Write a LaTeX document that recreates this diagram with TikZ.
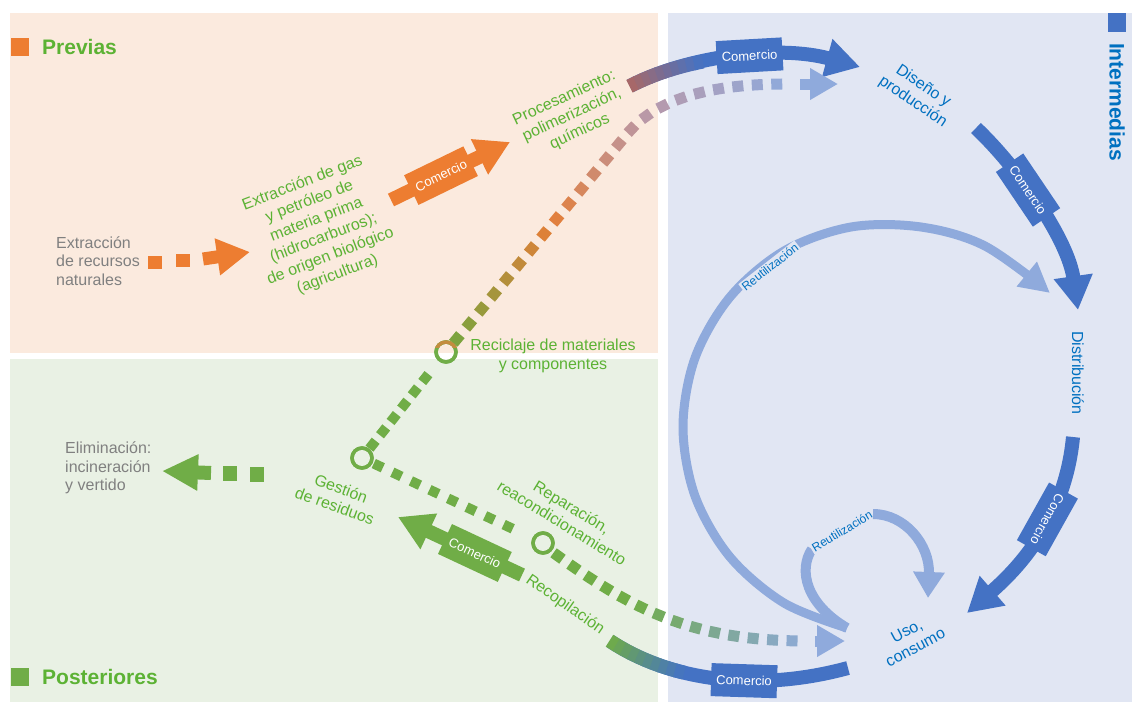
\documentclass[tikz,border=0pt]{standalone}
\usepackage{fontspec}
\setmainfont{Liberation Sans}
\usetikzlibrary{arrows.meta,decorations.markings,calc}
\definecolor{bgorange}{RGB}{251,234,222}
\definecolor{bggreen}{RGB}{233,241,228}
\definecolor{bgblue}{RGB}{225,230,243}
\definecolor{corange}{RGB}{237,125,49}
\definecolor{cblue}{RGB}{68,114,196}
\definecolor{clblue}{RGB}{143,170,220}
\definecolor{cgreen}{RGB}{112,173,71}
\definecolor{tgreen}{RGB}{92,178,52}
\definecolor{tblue}{RGB}{0,112,192}
\definecolor{tgray}{RGB}{128,128,128}
\definecolor{cbrown}{RGB}{172,104,100}
\definecolor{colive}{RGB}{125,163,62}
\definecolor{cdorange}{RGB}{228,126,56}
\definecolor{cmauve}{RGB}{185,152,168}
\definecolor{cteal}{RGB}{126,168,150}
\definecolor{cringtop}{RGB}{196,140,62}
\newcommand\myfs[2]{\fontsize{#1}{#2}\selectfont}
\tikzset{
  lbl/.style={inner sep=0pt, align=center, text=tgreen, font=\myfs{16}{18.5}},
  graylbl/.style={inner sep=0pt, align=left, text=tgray, font=\myfs{16}{18.5}},
  bluelbl/.style={inner sep=0pt, align=center, text=tblue, font=\myfs{16}{18.5}},
  headlbl/.style={inner sep=0pt, text=tgreen, font=\bfseries\myfs{21}{21}},
  reutlbl/.style={inner sep=1.5pt, text=tblue, fill=bgblue, font=\myfs{12}{12}},
  combox/.style={fill=#1, text=white, font=\myfs{13}{13}, minimum width=66pt,
                 minimum height=33pt, inner sep=0pt, sloped},
  bigarrow/.style={line width=14pt, draw=#1, -{Triangle[length=34pt,width=37pt]}},
  ring/.style={circle, draw=cgreen, line width=3.5pt, minimum size=20pt, inner sep=0pt},
  sqdots/.style n args={6}{decoration={markings,
     mark=between positions 0 and 1 step #6 with {%
       \pgfmathsetmacro\dd{\pgfkeysvalueof{/pgf/decoration/mark info/distance from start}}%
       \pgfmathtruncatemacro\pp{300*(\dd/\pgfdecoratedpathlength)}%
       \ifnum\pp<100\relax \colorlet{sqc}{#2!\pp!#1}%
       \else\ifnum\pp<200\relax \pgfmathtruncatemacro\qq{\pp-100}\colorlet{sqc}{#3!\qq!#2}%
       \else\pgfmathtruncatemacro\qq{min(\pp-200,100)}\colorlet{sqc}{#4!\qq!#3}\fi\fi
       \fill[sqc] (-#5/2,-#5/2) rectangle (#5/2,#5/2);}},
     decorate}
}
\begin{document}
\begin{tikzpicture}[x=1pt,y=-1pt]
\useasboundingbox (0,0) rectangle (1132,702);
\fill[white] (0,0) rectangle (1132,702);
% panels
\fill[bgorange] (10,13) rectangle (658,353);
\fill[bggreen] (10,359) rectangle (658,702);
\fill[bgblue] (668,13) rectangle (1132,702);
% headings
\fill[corange] (11,38) rectangle (29,56);
\node[headlbl, anchor=west] (hprev) at (42,47) {Previas};
\fill[cgreen] (11,668) rectangle (29,686);
\node[headlbl, anchor=west] (hpost) at (42,677) {Posteriores};
\fill[cblue] (1108,13) rectangle (1126,32);
\node[headlbl, text=tblue, rotate=-90] (hint) at (1117,102) {Intermedias};

% circles (nodes)
\node[ring] (cRec) at (446,352) {};
\node[ring] (cGes) at (362,458) {};
\node[ring] (cRep) at (543,543) {};

% coordinates
\coordinate (ex1) at (203,259);
\coordinate (ex2) at (250,252);
\coordinate (oc1) at (391,200);
\coordinate (oc2) at (510,142);
\coordinate (tg1) at (630,86);
\coordinate (tg2) at (860,67);
\coordinate (b1) at (976,128);
\coordinate (b2) at (1078,310);
\coordinate (b3) at (1073,437);
\coordinate (b4) at (967,613);
\coordinate (gc1) at (522,575);
\coordinate (gc2) at (398,517);
\coordinate (bg1) at (610,641);
\coordinate (bg2) at (848,668);
\coordinate (el1) at (211,473);
\coordinate (el2) at (162,471);
\coordinate (rd1) at ($(cRec)!17pt!(640,118)$);
\coordinate (rd2) at (628,133);
\coordinate (rd3) at (787,84);
\coordinate (rd4) at (800,84);
\coordinate (rd5) at (838,84);
\coordinate (ru1) at (558,556);
\coordinate (ru2) at (808,641);
\coordinate (ru3) at (815,641);
\coordinate (ru4) at (845,641);
\coordinate (uso1) at (847,628);

% orange dotted arrow
\fill[corange] (148,256) rectangle (162,269);
\fill[corange] (176,254) rectangle (190,267);
\draw[line width=13pt, corange, -{Triangle[length=33pt,width=35pt]}] (ex1) -- (ex2);

% orange comercio arrow
\draw[bigarrow=corange] (oc1) -- (oc2) node[combox=corange, pos=0.42] {Comercio};

% top gradient arrow
\draw[bigarrow=cblue] (tg1) .. controls (690,55) and (780,45) .. (tg2)
   node[combox=cblue, pos=0.55] {Comercio};
\path (tg1) .. controls (690,55) and (780,45) .. (tg2)
   coordinate[pos=0] (u0) coordinate[pos=0.035] (u1) coordinate[pos=0.07] (u2)
   coordinate[pos=0.105] (u3) coordinate[pos=0.14] (u4) coordinate[pos=0.175] (u5)
   coordinate[pos=0.21] (u6) coordinate[pos=0.245] (u7) coordinate[pos=0.28] (u8)
   coordinate[pos=0.315] (u9) coordinate[pos=0.35] (u10);
\foreach \i in {0,...,9}{\pgfmathtruncatemacro\j{\i+1}\pgfmathtruncatemacro\cc{10*\i+5}
  \draw[line width=14pt, draw=cblue!\cc!cbrown, shorten <=-0.6pt, shorten >=-0.6pt] (u\i) -- (u\j);}

% blue arrows
\draw[bigarrow=cblue] (b1) .. controls (1020,170) and (1068,240) .. (b2)
   node[combox=cblue, pos=0.4] {Comercio};
\draw[bigarrow=cblue] (b3) .. controls (1068,490) and (1045,545) .. (b4)
   node[combox=cblue, pos=0.5, allow upside down] {Comercio};

% bottom gradient
\draw[line width=14pt, cblue] (bg1) .. controls (672,682) and (760,692) .. (bg2)
   node[combox=cblue, pos=0.6] {Comercio};
\path (bg1) .. controls (672,682) and (760,692) .. (bg2)
   coordinate[pos=0] (w0) coordinate[pos=0.035] (w1) coordinate[pos=0.07] (w2)
   coordinate[pos=0.105] (w3) coordinate[pos=0.14] (w4) coordinate[pos=0.175] (w5)
   coordinate[pos=0.21] (w6) coordinate[pos=0.245] (w7) coordinate[pos=0.28] (w8)
   coordinate[pos=0.315] (w9) coordinate[pos=0.35] (w10);
\foreach \i in {0,...,9}{\pgfmathtruncatemacro\j{\i+1}\pgfmathtruncatemacro\cc{10*\i+5}
  \draw[line width=14pt, draw=cblue!\cc!cgreen, shorten <=-0.6pt, shorten >=-0.6pt] (w\i) -- (w\j);}

% green comercio arrow
\draw[bigarrow=cgreen] (gc1) -- (gc2) node[combox=cgreen, pos=0.38] {Comercio};

% big reuse arc
\draw[line width=9pt, clblue, -{Triangle[length=30pt,width=30pt]}]
  plot[smooth, tension=0.55] coordinates {(847,628) (784,603) (730,557) (695,496) (683,427)
  (695,358) (730,297) (784,251) (851,227) (921,227) (985,246) (1050,293)};
\node[reutlbl, rotate=38] (reut1) at (770,267) {Reutilización};

% small reuse loop
\draw[line width=10pt, clblue] (uso1) .. controls (806,604) and (798,570) .. (812,549);
\node[reutlbl, rotate=31] (reut2) at (842,531) {Reutilización};
\draw[line width=10pt, clblue, -{Triangle[length=26pt,width=30pt]}] (873,514) .. controls (905,514) and (930,545) .. (928,598);

% dotted lines
\path[sqdots={cgreen}{cgreen}{cgreen}{cgreen}{10pt}{17pt}]
   ($(cGes)!17pt!(cRec)$) -- ($(cRec)!16pt!(cGes)$);
\path[sqdots={cgreen}{cgreen}{cgreen}{cgreen}{10pt}{20.5pt}]
   ($(cGes)!18pt!(cRep)$) -- ($(cRep)!18pt!(cGes)$);
\path[sqdots={colive}{cdorange}{cmauve}{clblue}{11pt}{19.5pt}]
   (rd1) -- (rd2) .. controls (660,95) and (720,84) .. (rd3);
\draw[line width=11pt, clblue, -{Triangle[length=28pt,width=30pt]}] (rd4) -- (rd5);
\path[sqdots={cgreen}{cgreen}{cteal}{clblue}{11pt}{19.5pt}]
   (ru1) .. controls (640,615) and (700,641) .. (ru2);
\draw[line width=11pt, clblue, -{Triangle[length=28pt,width=30pt]}] (ru3) -- (ru4);

% elimination arrow
\fill[cgreen] (250,467) rectangle (264,482);
\fill[cgreen] (223,466) rectangle (237,481);
\draw[line width=14pt, cgreen, -{Triangle[length=36pt,width=34pt]}] (el1) -- (el2);

% rings on top
\node[ring] at (cRec) {};
\begin{scope}
  \clip (430,335) rectangle (465,347);
  \draw[cringtop, line width=3.5pt] (cRec) circle[radius=10pt];
\end{scope}
\node[ring] at (cGes) {};
\node[ring] at (cRep) {};

% texts
\node[graylbl, anchor=west] (recursos) at (56,261) {Extracción\\de recursos\\naturales};
\node[graylbl, anchor=west] (elim) at (65,468) {Eliminación:\\incineración\\y vertido};
\node[lbl, rotate=21, font=\myfs{16}{19.5}] (extrgas) at (320,229)
  {Extracción de gas\\y petróleo de\\materia prima\\(hidrocarburos);\\de origen biológico\\(agricultura)};
\node[lbl, rotate=25] (proces) at (572,115) {Procesamiento:\\polimerización,\\químicos};
\node[bluelbl, rotate=-34] (diseno) at (918,94) {Diseño y\\producción};
\node[bluelbl, rotate=-90] (distrib) at (1078,373) {Distribución};
\node[bluelbl, rotate=28] (uso) at (911,639) {Uso,\\consumo};
\node[lbl] (recicl) at (553,356) {Reciclaje de materiales\\y componentes};
\node[lbl, rotate=-20] (gestion) at (338,497) {Gestión\\de residuos};
\node[lbl, rotate=-31.5] (repar) at (567,515) {Reparación,\\reacondicionamiento};
\node[lbl, rotate=-35] (recop) at (565,605) {Recopilación};
\end{tikzpicture}
\end{document}
